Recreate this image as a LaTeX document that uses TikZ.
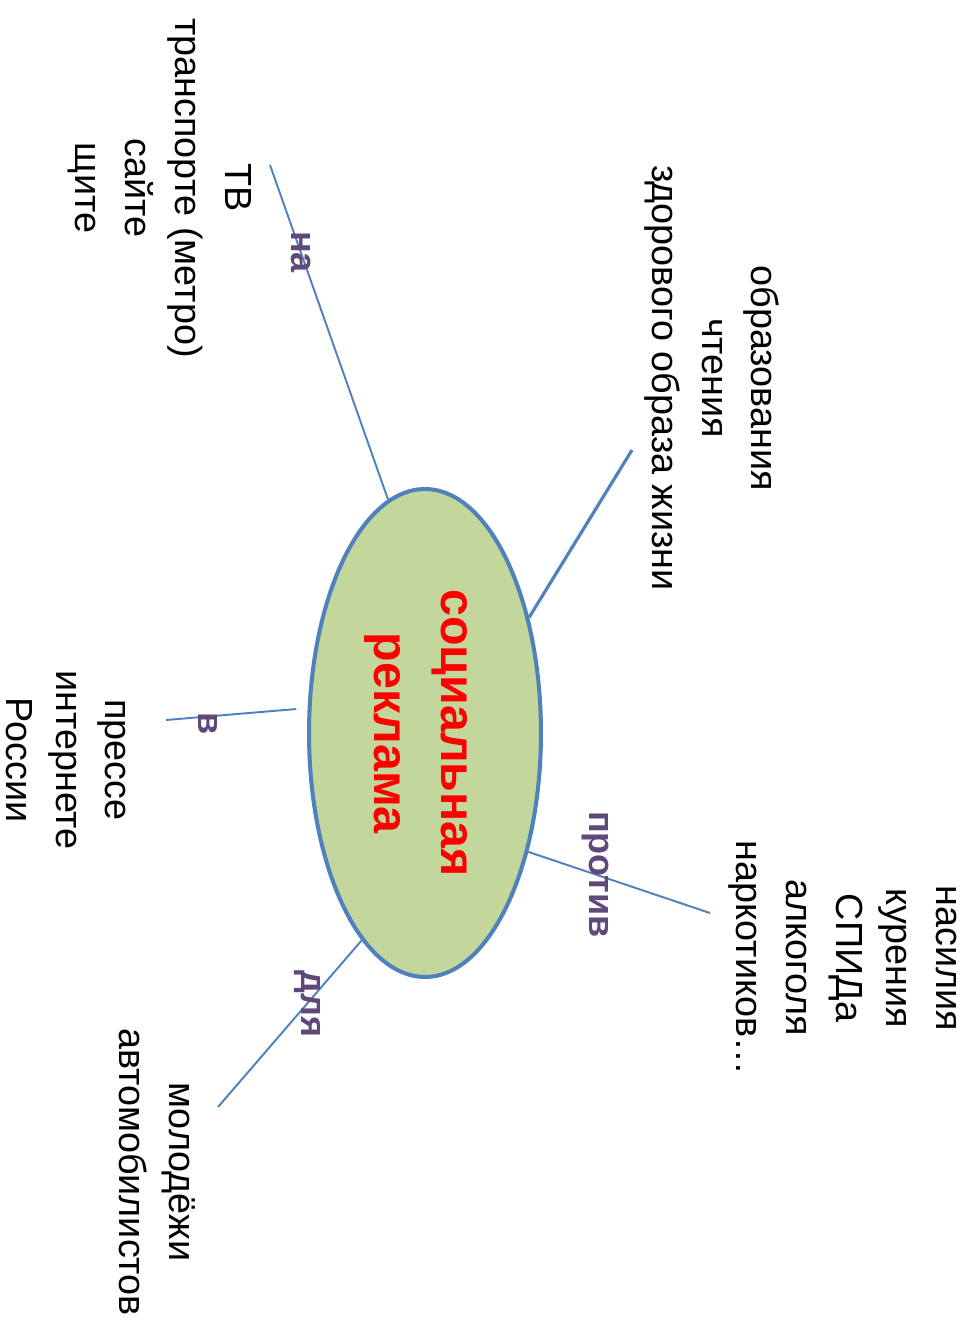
\documentclass[tikz,border=0pt]{standalone}
\usepackage{fontspec}
\setmainfont{Liberation Sans}
\usetikzlibrary{shapes.geometric}

\definecolor{hub-fill}{HTML}{C3D69B}
\definecolor{hub-edge}{HTML}{4F81BD}
\definecolor{link-ink}{HTML}{5F497A}
\definecolor{title-red}{HTML}{FF0000}
\tikzstyle{hub-oval}=[ellipse, draw={hub-edge}, fill={hub-fill}, line width=2.3pt, minimum width=4.64cm, minimum height=9.76cm, inner sep=0pt]
\tikzstyle{hub-text}=[rotate=-90, align=center, text={title-red}, font=\fontsize{27.5}{38}\selectfont\bfseries]
\tikzstyle{leaf-text}=[rotate=-90, align=center, font=\fontsize{21.5}{28.4}\selectfont]
\tikzstyle{branch-line}=[draw={hub-edge}, line width=1.1pt]
\tikzstyle{link-word}=[rotate=-90, inner sep=0pt, text={link-ink}, font=\fontsize{20.5}{24}\selectfont\bfseries]

\begin{document}
\begin{tikzpicture}[x=0.02cm, y=-0.02cm]
      \useasboundingbox (0,0) rectangle (964,1322);
      \node (hub) at (425,733) [hub-oval] {};

      \coordinate (end-na) at (270,165);
      \coordinate (end-zd) at (632,450);
      \coordinate (end-v) at (166,720);
      \coordinate (end-protiv) at (710,913);
      \coordinate (end-dlya) at (218,1107);

      \draw[branch-line] (hub.99.7) -- node[link-word, pos=0.74] {на} (end-na);
      \draw[branch-line, line width=1.8pt] (hub.48.8) -- (end-zd);
      \draw[branch-line, shorten <=6.5pt] (hub.168.6) -- node[link-word, pos=0.7, xshift=4pt] {в} (end-v);
      \draw[branch-line] (hub.311.9) -- node[link-word, pos=0.37] {против} (end-protiv);
      \draw[branch-line] (hub.253.5) -- node[link-word, pos=0.38] {для} (end-dlya);

      \node (hub-title) at (416,733) [hub-text] {социальная\\реклама};

      \node (leaf-na) at (160,188) [leaf-text] {ТВ\\транспорте (метро)\\сайте\\щите};
      \node (leaf-zd) at (712,378) [leaf-text] {образования\\чтения\\здорового образа жизни};
      \node (leaf-v) at (66,760) [leaf-text] {прессе\\интернете\\России};
      \node (leaf-protiv) at (843,958) [leaf-text] {насилия\\курения\\СПИДа\\алкоголя\\наркотиков…};
      \node (leaf-dlya) at (157,1172) [leaf-text] {молодёжи\\автомобилистов};
    \end{tikzpicture}
\end{document}
